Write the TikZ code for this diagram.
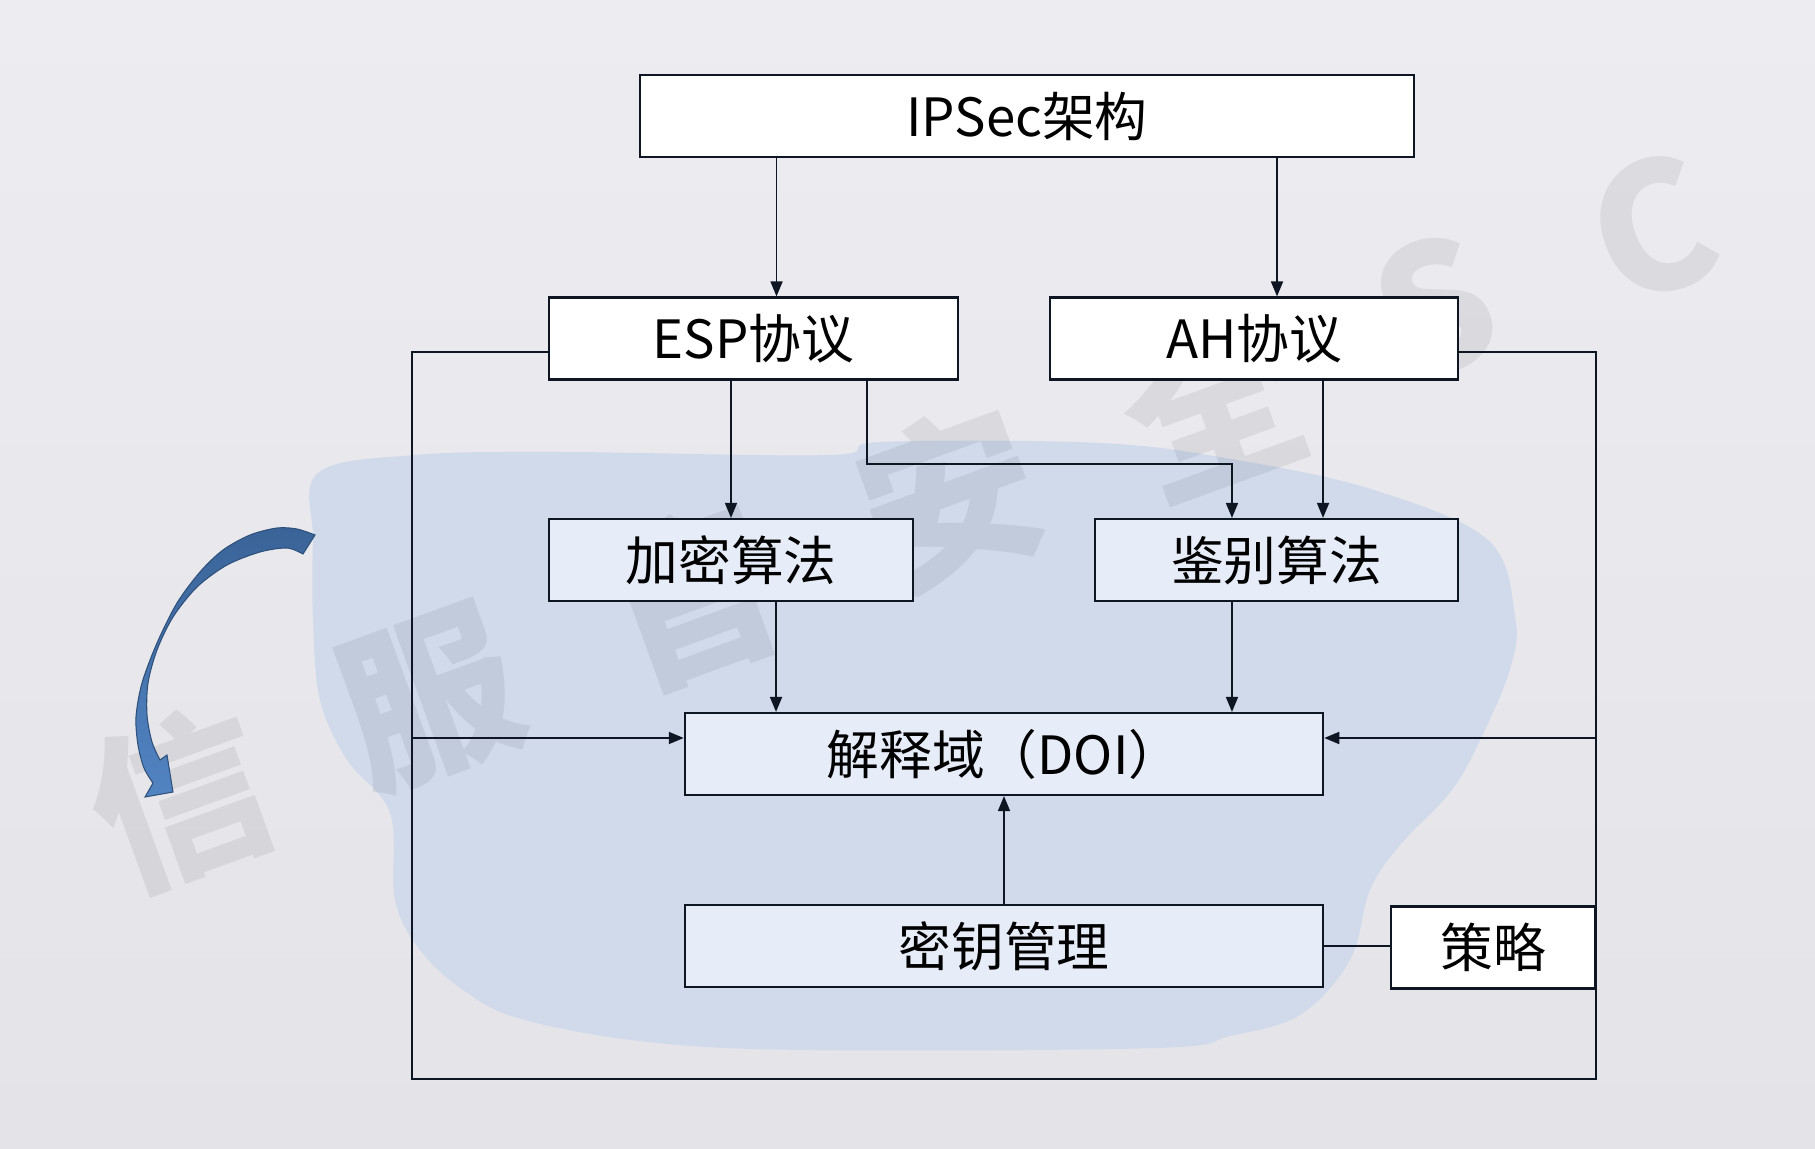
\documentclass[tikz,border=0pt]{standalone}
\usepackage{fontspec}
\setmainfont{Noto Sans CJK SC}
\usetikzlibrary{arrows.meta}
\definecolor{linecol}{RGB}{14,22,36}
\definecolor{boxblue}{RGB}{230,236,248}
\definecolor{bgtop}{RGB}{237,237,241}
\definecolor{bgbot}{RGB}{228,228,232}
\definecolor{blobblue}{RGB}{208,218,235}
\definecolor{arrowtop}{RGB}{58,100,152}
\definecolor{arrowbot}{RGB}{82,132,194}
\tikzstyle{block}=[rectangle,draw=linecol,line width=0.6pt,fill=white,minimum height=0.82cm,inner sep=0pt,text=black,font=\fontsize{15pt}{18pt}\selectfont]
\tikzstyle{subblock}=[block,fill=boxblue]

\begin{document}
\begin{tikzpicture}[x=0.01cm,y=-0.01cm,>={Triangle[length=0.15cm,width=0.12cm]}]
    \tikzstyle{conn}=[draw=linecol,line width=0.5pt]
    \tikzstyle{wmark}=[text=black,text opacity=0.065,rotate=20,font=\fontsize{50pt}{50pt}\selectfont\bfseries]
    \useasboundingbox (0,0) rectangle (1815,1149);
    % background
    \shade[top color=bgtop,bottom color=bgbot] (0,0) rectangle (1815,1149);
    \fill[blobblue] plot[smooth cycle,tension=0.6] coordinates {(318,473) (415,455) (560,452) (830,455) (880,442)
        (1100,443) (1237,460) (1374,490) (1488,540) (1515,616) (1511,666) (1484,732) (1452,790)
        (1401,844) (1370,890) (1350,960) (1300,1015) (1230,1036) (1157,1048) (810,1050) (648,1042)
        (521,1019) (463,990) (420,950) (395,900) (390,813) (347,760) (320,700) (313,620) (313,540)};
    \foreach \t/\px/\py in {信/179/799,服/429/699,官/689/598,安/949/498,全/1212/405,S/1435/307,C/1652/228}
        \node[wmark] (wm\px) at (\px,\py) {\t};
    \shade[top color=arrowtop,bottom color=arrowbot,draw=arrowtop!80!black,line width=0.3pt]
        plot[smooth,tension=0.5] coordinates {(315,535) (297,529) (277,528) (250,535) (223,550) (200,572) (177,603)
            (157,643) (142,683) (136,717) (138,745) (144,768) (153,783)}
        -- (145,797) -- (173,792) -- (167,755) --
        plot[smooth,tension=0.5] coordinates {(160,760) (152,742) (147,715) (148,683) (157,650) (173,617)
            (197,587) (227,565) (260,552) (287,548) (303,554)}
        -- cycle;

    % boxes
    \node[block,minimum width=7.73cm] (arch) at (1027,116) {IPSec架构};
    \node[block,minimum width=4.09cm] (esp) at (753.5,338.5) {ESP协议};
    \node[block,minimum width=4.08cm] (ah) at (1254,338.5) {AH协议};
    \node[subblock,minimum width=3.64cm] (enc) at (731,560) {加密算法};
    \node[subblock,minimum width=3.63cm] (auth) at (1276.5,560) {鉴别算法};
    \node[subblock,minimum width=6.38cm] (doi) at (1004,754) {解释域（DOI）};
    \node[subblock,minimum width=6.38cm] (key) at (1004,946) {密钥管理};
    \node[block,minimum width=2.04cm] (policy) at (1493,947.5) {策略};

    \coordinate (lb) at (412,1079);
    \coordinate (rb) at (policy.east |- lb);
    \coordinate (dl) at ([yshift=0.16cm]doi.west);
    \coordinate (dr) at ([yshift=0.16cm]doi.east);

    % connectors
    \draw[conn,->] ([xshift=0.23cm]esp.north |- arch.south) -- ([xshift=0.23cm]esp.north);
    \draw[conn,->] ([xshift=0.23cm]ah.north |- arch.south) -- ([xshift=0.23cm]ah.north);
    \draw[conn,->] (esp.south -| enc.north) -- (enc.north);
    \draw[conn,->] ([xshift=1.135cm]esp.south) -- ++(0,-0.83cm) -| ([xshift=-0.445cm]auth.north);
    \draw[conn,->] ([xshift=0.465cm]auth.north |- ah.south) -- ([xshift=0.465cm]auth.north);
    \draw[conn,->] ([xshift=0.45cm]enc.south) -- ([xshift=0.45cm]enc.south |- doi.north);
    \draw[conn,->] ([xshift=-0.445cm]auth.south) -- ([xshift=-0.445cm]auth.south |- doi.north);
    \draw[conn,->] (key.north) -- (doi.south);
    \draw[conn] (key.east) -- (key.east -| policy.west);
    \draw[conn] ([yshift=-0.135cm]ah.east) -| (rb) -- (lb) |- ([yshift=-0.135cm]esp.west);
    \draw[conn,->] (lb |- dl) -- (dl);
    \draw[conn,->] (rb |- dr) -- (dr);
\end{tikzpicture}
\end{document}
